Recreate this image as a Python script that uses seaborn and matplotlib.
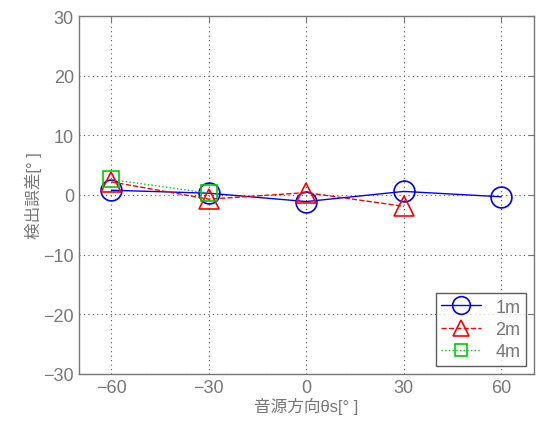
import matplotlib
matplotlib.use("Agg")
import matplotlib.pyplot as plt
import seaborn as sns
import pandas as pd

angles_1m = [-60, -30, 0, 30, 60]
err_1m = [0.8, 0.3, -1.1, 0.6, -0.3]
angles_2m = [-60, -30, 0, 30]
err_2m = [2.2, -0.7, 0.4, -1.9]
angles_4m = [-60, -30]
err_4m = [2.6, 0.3]
labels = ["1m", "2m", "4m"]
xticks = [-60, -30, 0, 30, 60]
yticks = [-30, -20, -10, 0, 10, 20, 30]

sns.set_style("white")
plt.rcParams['font.family'] = ['Liberation Sans', 'Noto Sans CJK JP', 'DejaVu Sans']

fig = plt.figure(figsize=(5.36, 4.27), dpi=100)
ax = fig.add_axes([0.147, 0.122, 0.849, 0.838])

gray = "#777777"
series = [
    (angles_1m, err_1m, labels[0], "blue", "-", "o", 15),
    (angles_2m, err_2m, labels[1], "red", "--", "^", 14),
    (angles_4m, err_4m, labels[2], "#00cc00", ":", "s", 11),
]
for xs, ys, lab, col, ls, mk, ms in series:
    df = pd.DataFrame({"x": xs, "y": ys})
    sns.lineplot(data=df, x="x", y="y", ax=ax, color=col, linestyle=ls,
                 marker=mk, markersize=ms, markerfacecolor="none",
                 markeredgecolor=col, markeredgewidth=1.2, linewidth=1.0,
                 label=lab)

ax.set_xlim(-70, 70)
ax.set_ylim(-30, 30)
ax.set_xticks(xticks)
ax.set_yticks(yticks)
ax.set_xticklabels(["\u2212" + str(-t) if t < 0 else str(t) for t in xticks])
ax.set_yticklabels(["\u2212" + str(-t) if t < 0 else str(t) for t in yticks])
ax.grid(True, color="#555555", linestyle=(0, (1, 3)), linewidth=0.8)
ax.tick_params(axis="both", direction="in", colors=gray, labelsize=13,
               top=True, right=True, length=4)
for s in ax.spines.values():
    s.set_color(gray)
    s.set_linewidth(1.0)
ax.set_xlabel("音源方向θs[° ]", color=gray, fontsize=12, labelpad=1)
ax.set_ylabel("検出誤差[° ]", color=gray, fontsize=12, labelpad=1)

leg = ax.legend(loc="lower right", frameon=True, fancybox=False,
                edgecolor="#333333", fontsize=13, borderaxespad=0.45,
                handlelength=2.2, labelspacing=0.3, borderpad=0.3,
                handletextpad=0.8, markerscale=0.85)
leg.get_frame().set_linewidth(1.0)
for t in leg.get_texts():
    t.set_color(gray)

fig.savefig("out.png", dpi=100)
